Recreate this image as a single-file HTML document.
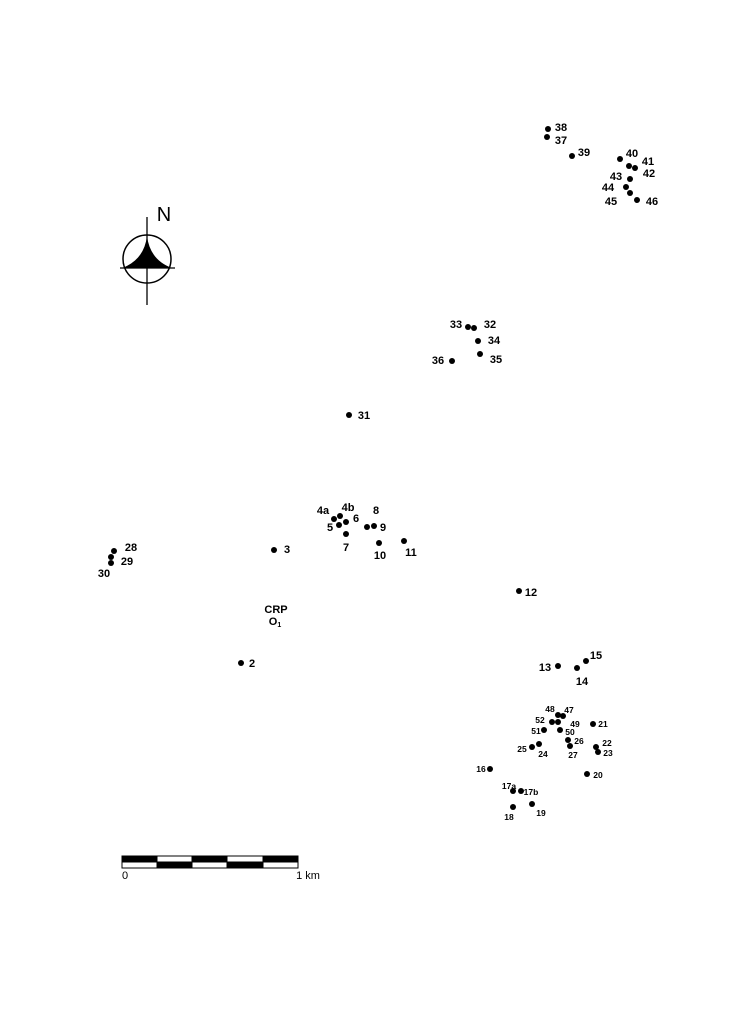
<!DOCTYPE html>
<html><head><meta charset="utf-8"><style>
html,body{margin:0;padding:0;background:#fff}
svg{display:block}
text{font-family:"Liberation Sans",Arial,sans-serif;font-weight:bold;fill:#000;text-anchor:middle;dominant-baseline:central}
.s{font-size:8.5px}.m{font-size:11px}
</style></head><body>
<svg width="745" height="1024" viewBox="0 0 745 1024" xmlns="http://www.w3.org/2000/svg">
<line x1="147" y1="217" x2="147" y2="305" stroke="#000" stroke-width="1.3"/>
<line x1="120" y1="268" x2="175" y2="268" stroke="#000" stroke-width="1.3"/>
<circle cx="147" cy="259" r="24" fill="none" stroke="#000" stroke-width="1.5"/>
<path d="M147,236 Q150,260 172,268 L122,268 Q144,260 147,236Z" fill="#000"/>
<text x="164" y="215" style="font-size:20px;font-weight:normal">N</text>
<g stroke="#000" stroke-width="1">
<rect x="122" y="856" width="176" height="12" fill="#fff"/>
<rect x="122" y="856" width="35" height="6" fill="#000"/>
<rect x="192" y="856" width="35" height="6" fill="#000"/>
<rect x="263" y="856" width="35" height="6" fill="#000"/>
<rect x="157" y="862" width="35" height="6" fill="#000"/>
<rect x="227" y="862" width="36" height="6" fill="#000"/>
</g>
<text x="125" y="876" style="font-size:11px;font-weight:normal">0</text>
<text x="308" y="876" style="font-size:11px;font-weight:normal">1 km</text>
<g fill="#000">
<circle cx="548" cy="129" r="3"/><circle cx="547" cy="137" r="3"/><circle cx="572" cy="156" r="3"/>
<circle cx="620" cy="159" r="3"/><circle cx="629" cy="166" r="3"/><circle cx="635" cy="168" r="3"/>
<circle cx="630" cy="179" r="3"/><circle cx="626" cy="187" r="3"/><circle cx="630" cy="193" r="3"/><circle cx="637" cy="200" r="3"/>
<circle cx="468" cy="327" r="3"/><circle cx="474" cy="328" r="3"/><circle cx="478" cy="341" r="3"/><circle cx="480" cy="354" r="3"/><circle cx="452" cy="361" r="3"/>
<circle cx="349" cy="415" r="3"/>
<circle cx="334" cy="519" r="3"/><circle cx="340" cy="516" r="3"/><circle cx="339" cy="525" r="3"/><circle cx="346" cy="522" r="3"/>
<circle cx="367" cy="527" r="3"/><circle cx="374" cy="526" r="3"/><circle cx="346" cy="534" r="3"/><circle cx="379" cy="543" r="3"/><circle cx="404" cy="541" r="3"/>
<circle cx="274" cy="550" r="3"/>
<circle cx="114" cy="551" r="3"/><circle cx="111" cy="557" r="3"/><circle cx="111" cy="563" r="3"/>
<circle cx="519" cy="591" r="3"/><circle cx="241" cy="663" r="3"/>
<circle cx="558" cy="666" r="3"/><circle cx="586" cy="661" r="3"/><circle cx="577" cy="668" r="3"/>
<circle cx="558" cy="715" r="3"/><circle cx="563" cy="716" r="3"/><circle cx="552" cy="722" r="3"/><circle cx="558" cy="722" r="3"/>
<circle cx="593" cy="724" r="3"/><circle cx="544" cy="730" r="3"/><circle cx="560" cy="730" r="3"/>
<circle cx="568" cy="740" r="3"/><circle cx="570" cy="746" r="3"/><circle cx="532" cy="747" r="3"/><circle cx="539" cy="744" r="3"/>
<circle cx="596" cy="747" r="3"/><circle cx="598" cy="752" r="3"/><circle cx="587" cy="774" r="3"/><circle cx="490" cy="769" r="3"/>
<circle cx="513" cy="791" r="3"/><circle cx="521" cy="791" r="3"/><circle cx="513" cy="807" r="3"/><circle cx="532" cy="804" r="3"/>
</g>
<g class="m">
<text x="561" y="128">38</text><text x="561" y="141">37</text><text x="584" y="153">39</text>
<text x="632" y="154">40</text><text x="648" y="162">41</text><text x="649" y="174">42</text>
<text x="616" y="177">43</text><text x="608" y="188">44</text><text x="611" y="202">45</text><text x="652" y="202">46</text>
<text x="456" y="325">33</text><text x="490" y="325">32</text><text x="494" y="341">34</text><text x="496" y="360">35</text><text x="438" y="361">36</text>
<text x="364" y="416">31</text>
<text x="323" y="511">4a</text><text x="348" y="508">4b</text><text x="330" y="528">5</text><text x="356" y="519">6</text>
<text x="376" y="511">8</text><text x="383" y="528">9</text><text x="346" y="548">7</text><text x="380" y="556">10</text><text x="411" y="553">11</text>
<text x="287" y="550">3</text><text x="131" y="548">28</text><text x="127" y="562">29</text><text x="104" y="574">30</text>
<text x="531" y="593">12</text><text x="252" y="664">2</text>
<text x="545" y="668">13</text><text x="596" y="656">15</text><text x="582" y="682">14</text>
<text x="276" y="610">CRP</text><text x="275" y="622">O<tspan style="font-size:7px" dy="3">1</tspan></text>
</g>
<g class="s">
<text x="550" y="709">48</text><text x="569" y="710">47</text><text x="540" y="720">52</text><text x="575" y="724">49</text>
<text x="603" y="724">21</text><text x="536" y="731">51</text><text x="570" y="732">50</text><text x="579" y="741">26</text>
<text x="573" y="755">27</text><text x="522" y="749">25</text><text x="543" y="754">24</text><text x="607" y="743">22</text>
<text x="608" y="753">23</text><text x="598" y="775">20</text><text x="481" y="769">16</text>
<text x="509" y="786">17a</text><text x="531" y="792">17b</text><text x="509" y="817">18</text><text x="541" y="813">19</text>
</g>
</svg>
</body></html>
